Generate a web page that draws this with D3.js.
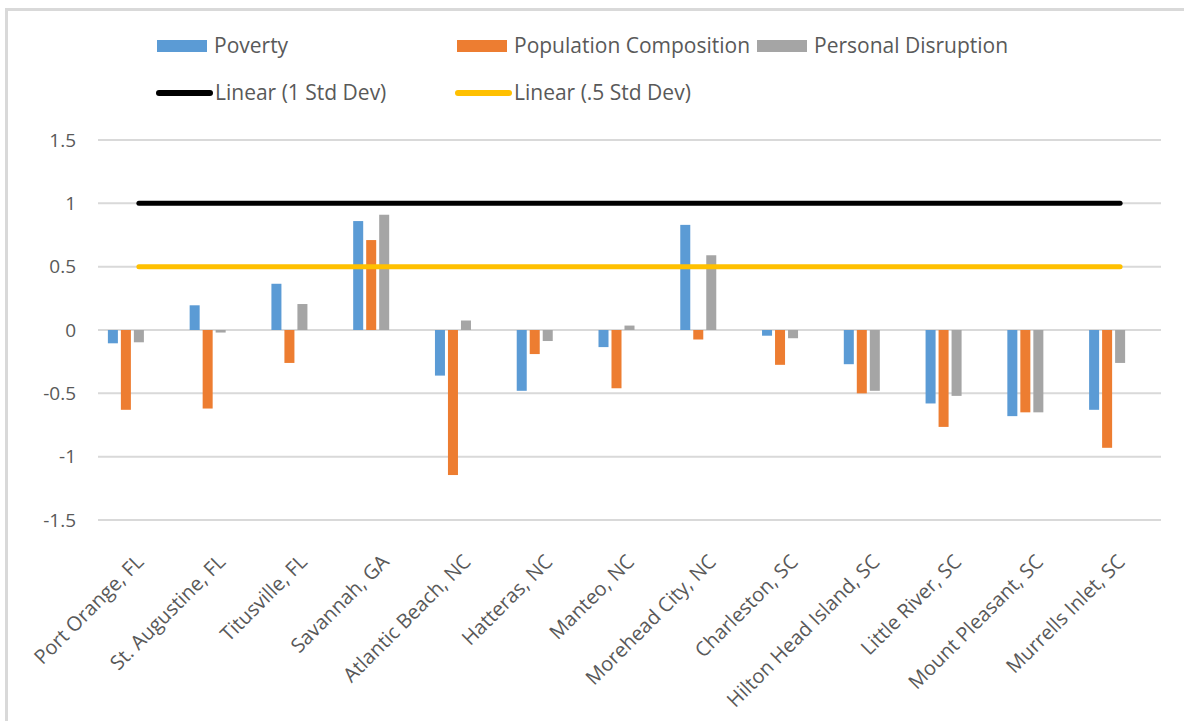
<!DOCTYPE html>
<html>
<head>
<meta charset="utf-8">
<script src="https://cdn.jsdelivr.net/npm/d3@7/dist/d3.min.js"></script>
<style>
  html, body { margin: 0; padding: 0; background: #fff; }
  svg { display: block; }
  text { font-family: "Open Sans", "Liberation Sans", sans-serif; fill: #595959; }
</style>
</head>
<body>
<svg id="chart" width="1184" height="721"></svg>
<script>
// ---- Data ----
const categories = ["Port Orange, FL", "St. Augustine, FL", "Titusville, FL", "Savannah, GA",
  "Atlantic Beach, NC", "Hatteras, NC", "Manteo, NC", "Morehead City, NC", "Charleston, SC",
  "Hilton Head Island, SC", "Little River, SC", "Mount Pleasant, SC", "Murrells Inlet, SC"];
const poverty = [-0.105, 0.195, 0.365, 0.86, -0.36, -0.48, -0.135, 0.83, -0.045, -0.27, -0.58, -0.68, -0.63];
const populationComposition = [-0.63, -0.62, -0.26, 0.71, -1.145, -0.19, -0.46, -0.075, -0.275, -0.5, -0.765, -0.65, -0.93];
const personalDisruption = [-0.097, -0.02, 0.205, 0.91, 0.075, -0.087, 0.035, 0.59, -0.065, -0.48, -0.52, -0.65, -0.26];
const stdDev1 = [1, 1, 1, 1, 1, 1, 1, 1, 1, 1, 1, 1, 1];
const stdDevHalf = [0.5, 0.5, 0.5, 0.5, 0.5, 0.5, 0.5, 0.5, 0.5, 0.5, 0.5, 0.5, 0.5];
const yTicks = [-1.5, -1, -0.5, 0, 0.5, 1, 1.5];
const yTickLabels = ["-1.5", "-1", "-0.5", "0", "0.5", "1", "1.5"];

const barSeries = [
  { name: "Poverty", values: poverty, color: "#5B9BD5" },
  { name: "Population Composition", values: populationComposition, color: "#ED7D31" },
  { name: "Personal Disruption", values: personalDisruption, color: "#A5A5A5" }
];
// hidden bar series whose linear trendlines are shown
const hiddenSeries = ["1 Std Dev", ".5 Std Dev"];
const trendSeries = [
  { name: "Linear (1 Std Dev)", values: stdDev1, color: "#000000" },
  { name: "Linear (.5 Std Dev)", values: stdDevHalf, color: "#FFC000" }
];

// ---- Layout ----
const svg = d3.select("#chart");
svg.append("rect").attr("x", 0).attr("y", 0).attr("width", 1184).attr("height", 721).attr("fill", "#fff");
// chart border
svg.append("rect").attr("x", 6.5).attr("y", 9.5).attr("width", 1300).attr("height", 800)
  .attr("fill", "none").attr("stroke", "#D9D9D9").attr("stroke-width", 3);

const plot = { left: 98, right: 1161, top: 140, bottom: 520 };

const x = d3.scaleBand().domain(categories).range([plot.left, plot.right]).padding(0);
const y = d3.scaleLinear().domain([-1.5, 1.5]).range([plot.bottom, plot.top]);

const bw = x.bandwidth();
const allSlots = barSeries.map(s => s.name).concat(hiddenSeries);
const xs = d3.scaleBand().domain(allSlots)
  .range([bw / 2 - 32.5, bw / 2 + 32.5]).paddingInner(0.23).paddingOuter(0.115);

// gridlines
svg.append("g").selectAll("line").data(yTicks).join("line")
  .attr("x1", plot.left).attr("x2", plot.right)
  .attr("y1", d => y(d)).attr("y2", d => y(d))
  .attr("stroke", "#D9D9D9").attr("stroke-width", 2);

// y axis labels
const yAxis = d3.axisLeft(y).tickValues(yTicks).tickSize(0).tickPadding(0)
  .tickFormat(d => yTickLabels[yTicks.indexOf(d)]);
const yg = svg.append("g").attr("transform", `translate(76,0)`).call(yAxis);
yg.select(".domain").remove();
yg.selectAll("text").attr("font-size", 19).attr("fill", "#595959")
  .style("font-family", "'Open Sans', 'Liberation Sans', sans-serif");

// bars
barSeries.forEach(s => {
  svg.append("g").selectAll("rect").data(s.values).join("rect")
    .attr("x", (d, i) => x(categories[i]) + xs(s.name))
    .attr("width", xs.bandwidth())
    .attr("y", d => y(Math.max(0, d)))
    .attr("height", d => Math.abs(y(d) - y(0)))
    .attr("fill", s.color);
});

// trendlines (linear through constant series) from first to last category centre
trendSeries.forEach(s => {
  const line = d3.line()
    .x((d, i) => x(categories[i]) + bw / 2)
    .y(d => y(d));
  svg.append("path")
    .datum(s.values)
    .attr("d", line)
    .attr("fill", "none").attr("stroke", s.color).attr("stroke-width", 5)
    .attr("stroke-linecap", "round");
});

// x axis labels
const xg = svg.append("g");
xg.selectAll("text").data(categories).join("text")
  .attr("transform", d => `translate(${x(d) + bw / 2 + 6},${563}) rotate(-45)`)
  .attr("text-anchor", "end")
  .attr("font-size", 20)
  .attr("fill", "#595959")
  .text(d => d);

// legend
const legendBars = [
  { s: barSeries[0], x: 157, y: 46 },
  { s: barSeries[1], x: 457, y: 46 },
  { s: barSeries[2], x: 757, y: 46 }
];
legendBars.forEach(l => {
  svg.append("rect").attr("x", l.x).attr("y", l.y - 6).attr("width", 50).attr("height", 12).attr("fill", l.s.color);
  svg.append("text").attr("x", l.x + 57).attr("y", l.y).attr("dy", "0.35em")
    .attr("font-size", 21).text(l.s.name);
});
const legendLines = [
  { s: trendSeries[0], x: 157, y: 93 },
  { s: trendSeries[1], x: 456, y: 93 }
];
legendLines.forEach(l => {
  svg.append("line").attr("x1", l.x + 2).attr("x2", l.x + 53).attr("y1", l.y).attr("y2", l.y)
    .attr("stroke", l.s.color).attr("stroke-width", 6).attr("stroke-linecap", "round");
  svg.append("text").attr("x", l.x + 58).attr("y", l.y).attr("dy", "0.35em")
    .attr("font-size", 21).text(l.s.name);
});
</script>
</body>
</html>
